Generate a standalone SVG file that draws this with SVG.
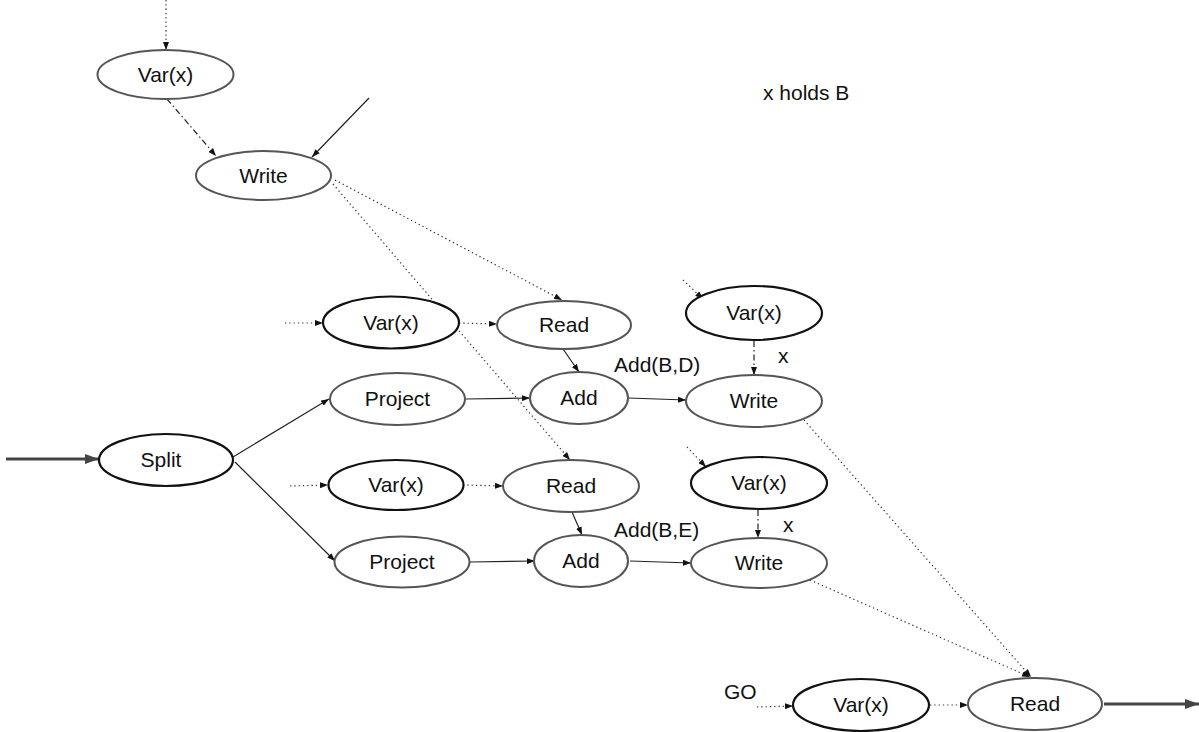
<svg xmlns="http://www.w3.org/2000/svg" width="1199" height="732" viewBox="0 0 1199 732">
  <style>
    .node { fill: #fff; stroke: #555; stroke-width: 2; }
    .var { stroke: #111; stroke-width: 2.2; }
    .lbl { font-family: "Liberation Sans", Arial, sans-serif; font-size: 21px; fill: #111; text-anchor: middle; }
    .note { font-family: "Liberation Sans", Arial, sans-serif; font-size: 21px; fill: #111; }
    .e { fill: none; stroke: #222; stroke-width: 1.2; marker-end: url(#ah); }
    .dot { stroke-dasharray: 1.3 3; stroke: #333; }
    .dd { stroke-dasharray: 6 3 1.5 3; }
    .thick { stroke: #444; stroke-width: 3; marker-end: url(#ahBig); }
  </style>
  <defs>
    <marker id="ah" markerUnits="userSpaceOnUse" markerWidth="8" markerHeight="6" refX="8" refY="3" orient="auto">
      <path d="M0,0 L8,3 L0,6 z" fill="#111"/>
    </marker>
    <marker id="ahBig" markerUnits="userSpaceOnUse" markerWidth="14" markerHeight="10" refX="14" refY="5" orient="auto">
      <path d="M0,0 L14,5 L0,10 z" fill="#444"/>
    </marker>
  </defs>

  <rect width="1199" height="732" fill="#fff"/>

  <!-- connectors -->
  <g id="connectors">
    <line class="e dot" x1="166" y1="0" x2="166" y2="50"/>
    <line class="e dd" x1="167" y1="99" x2="216" y2="156"/>
    <line class="e" x1="369" y1="98" x2="312" y2="157"/>
    <line class="e dot" x1="335" y1="180" x2="562" y2="300"/>
    <line class="e dot" x1="333" y1="184" x2="570" y2="460"/>
    <line class="e dot" x1="285" y1="323" x2="323" y2="323"/>
    <line class="e dot" x1="459" y1="323" x2="497" y2="324"/>
    <line class="e" x1="563" y1="349" x2="579" y2="372"/>
    <line class="e" x1="466" y1="399" x2="530" y2="398"/>
    <line class="e" x1="628" y1="398" x2="686" y2="400"/>
    <line class="e dot" x1="683" y1="280" x2="703" y2="299"/>
    <line class="e dd" x1="754" y1="341" x2="754" y2="375"/>
    <line class="e dot" x1="804" y1="420" x2="1031" y2="677"/>
    <line class="e thick" x1="6" y1="459" x2="99" y2="459"/>
    <line class="e" x1="233" y1="457" x2="329" y2="399"/>
    <line class="e" x1="235" y1="462" x2="335" y2="561"/>
    <line class="e dot" x1="290" y1="486" x2="328" y2="485"/>
    <line class="e dot" x1="463" y1="485" x2="503" y2="486"/>
    <line class="e" x1="572" y1="512" x2="582" y2="535"/>
    <line class="e" x1="470" y1="562" x2="535" y2="561"/>
    <line class="e" x1="630" y1="561" x2="691" y2="563"/>
    <line class="e dot" x1="687" y1="447" x2="706" y2="467"/>
    <line class="e dd" x1="758" y1="510" x2="758" y2="538"/>
    <line class="e dot" x1="810" y1="580" x2="1030" y2="677"/>
    <line class="e dot" x1="757" y1="707" x2="793" y2="706"/>
    <line class="e dot" x1="930" y1="705" x2="968" y2="705"/>
    <line class="e thick" x1="1104" y1="704" x2="1199" y2="704"/>
  </g>

  <!-- nodes -->
  <g id="var-top"><ellipse class="node" cx="165.5" cy="74.5" rx="68" ry="24.5"/><text class="lbl" x="165.5" y="82">Var(x)</text></g>
  <g id="write-top"><ellipse class="node" cx="263.5" cy="175.5" rx="67.5" ry="24.5"/><text class="lbl" x="263.5" y="183">Write</text></g>

  <g id="var-1"><ellipse class="node var" cx="391" cy="322.5" rx="68" ry="26"/><text class="lbl" x="391" y="330">Var(x)</text></g>
  <g id="read-1"><ellipse class="node" cx="564" cy="325" rx="67" ry="24"/><text class="lbl" x="564" y="332">Read</text></g>
  <g id="var-r1"><ellipse class="node var" cx="754" cy="313" rx="68" ry="27"/><text class="lbl" x="754" y="320">Var(x)</text></g>
  <g id="project-1"><ellipse class="node" cx="397.5" cy="399" rx="67.5" ry="26"/><text class="lbl" x="397.5" y="406">Project</text></g>
  <g id="add-1"><ellipse class="node" cx="579" cy="398" rx="49" ry="26"/><text class="lbl" x="579" y="405">Add</text></g>
  <g id="write-1"><ellipse class="node" cx="754" cy="401" rx="68" ry="26"/><text class="lbl" x="754" y="408">Write</text></g>

  <g id="split"><ellipse class="node var" cx="166" cy="460" rx="67" ry="26"/><text class="lbl" x="161" y="467">Split</text></g>

  <g id="var-2"><ellipse class="node var" cx="396" cy="485" rx="67.5" ry="25"/><text class="lbl" x="396" y="492">Var(x)</text></g>
  <g id="read-2"><ellipse class="node" cx="571" cy="486" rx="68" ry="26"/><text class="lbl" x="571" y="493">Read</text></g>
  <g id="var-r2"><ellipse class="node var" cx="759" cy="483" rx="68" ry="26"/><text class="lbl" x="759" y="490">Var(x)</text></g>
  <g id="project-2"><ellipse class="node" cx="402" cy="562" rx="67.5" ry="25.5"/><text class="lbl" x="402" y="569">Project</text></g>
  <g id="add-2"><ellipse class="node" cx="581" cy="561" rx="47" ry="26"/><text class="lbl" x="581" y="568">Add</text></g>
  <g id="write-2"><ellipse class="node" cx="759" cy="563" rx="68" ry="25"/><text class="lbl" x="759" y="570">Write</text></g>

  <g id="var-3"><ellipse class="node var" cx="861" cy="705" rx="68" ry="26"/><text class="lbl" x="861" y="712">Var(x)</text></g>
  <g id="read-3"><ellipse class="node" cx="1035" cy="704" rx="67" ry="26"/><text class="lbl" x="1035" y="711">Read</text></g>

  <!-- free labels -->
  <g id="labels">
    <text class="note" x="763" y="100">x holds B</text>
    <text class="note" x="614" y="372">Add(B,D)</text>
    <text class="note" x="778" y="363">x</text>
    <text class="note" x="614" y="537">Add(B,E)</text>
    <text class="note" x="783" y="532">x</text>
    <text class="note" x="724" y="699">GO</text>
  </g>
</svg>
